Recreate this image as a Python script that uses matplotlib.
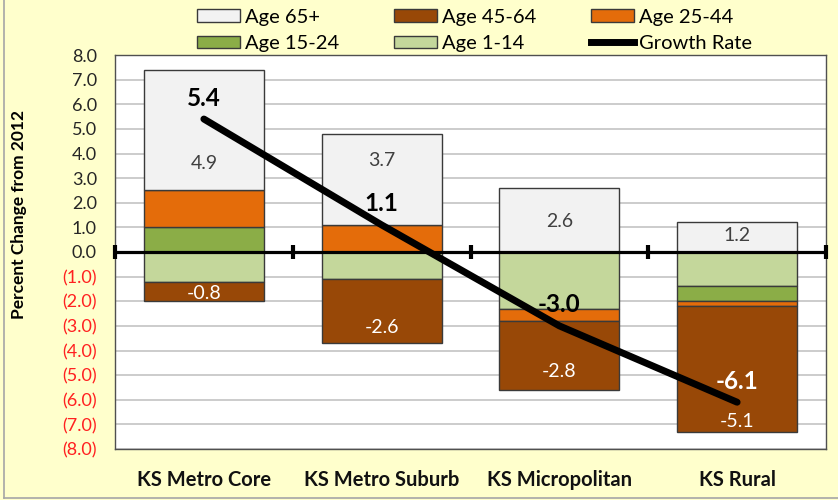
import matplotlib
matplotlib.use("Agg")
import matplotlib.pyplot as plt
import numpy as np
from matplotlib.lines import Line2D
from matplotlib.patches import Patch

plt.rcParams['font.family'] = ['Lato', 'DejaVu Sans']

categories = ["KS Metro Core", "KS Metro Suburb", "KS Micropolitan", "KS Rural"]
age_1_14 = [-1.2, -1.1, -2.3, -1.4]
age_15_24 = [1.0, 0.0, 0.0, -0.6]
age_25_44 = [1.5, 1.1, -0.5, -0.2]
age_45_64 = [-0.8, -2.6, -2.8, -5.1]
age_65 = [4.9, 3.7, 2.6, 1.2]
growth = [5.4, 1.1, -3.0, -6.1]
yticks = np.arange(-8, 9, 1)

# label placement (layout only)
label65_y = [3.6, 3.7, 1.25, 0.65]
label4564_y = [-1.7, -3.05, -4.85, -6.9]
growth_label_colors = ['black', 'black', 'black', 'white']

series = [
    ("Age 1-14", age_1_14, "#C4D79B"),
    ("Age 15-24", age_15_24, "#8BAD47"),
    ("Age 25-44", age_25_44, "#E46C0A"),
    ("Age 45-64", age_45_64, "#984807"),
    ("Age 65+", age_65, "#F2F2F2"),
]

fig = plt.figure(figsize=(8.38, 5.0), dpi=100, facecolor="#FFFFCC")
ax = fig.add_axes([115/838, 51/500, 711/838, 394/500])
ax.set_facecolor("white")

x = np.arange(len(categories))
width = 0.675
pos_base = np.zeros(len(categories))
neg_base = np.zeros(len(categories))
handles = {}
for name, vals, color in series:
    vals = np.array(vals, dtype=float)
    bottoms = np.where(vals >= 0, pos_base, neg_base)
    ax.bar(x, vals, width, bottom=bottoms, color=color, edgecolor="#3a3a3a",
           linewidth=1.0, zorder=2)
    handles[name] = Patch(facecolor=color, edgecolor="#3a3a3a", linewidth=1.0)
    pos_base = pos_base + np.where(vals >= 0, vals, 0)
    neg_base = neg_base + np.where(vals < 0, vals, 0)

# zero line with category-boundary ticks
ax.axhline(0, color="black", lw=2.3, zorder=3)
bounds = np.arange(len(categories) + 1) - 0.5
ax.plot(bounds, np.zeros_like(bounds), ls="none", marker="|", ms=9.5, mew=3,
        color="black", zorder=3, clip_on=False)

# growth line
ax.plot(x, growth, color="black", lw=5, solid_capstyle="round", zorder=4)
handles["Growth Rate"] = Line2D([0], [0], color="black", lw=5)

# labels
for i in range(len(categories)):
    ax.text(x[i], label65_y[i], f"{age_65[i]:.1f}", ha="center", va="center",
            fontsize=14, color="#404040", zorder=5)
    ax.text(x[i], label4564_y[i], f"{age_45_64[i]:.1f}", ha="center", va="center",
            fontsize=14, color="white", zorder=5)
    ax.annotate(f"{growth[i]:.1f}", (x[i], growth[i]), xytext=(0, 21),
                textcoords="offset pixels", ha="center", va="center",
                fontsize=17.5, fontweight="bold", color=growth_label_colors[i],
                zorder=6)

ax.set_xlim(-0.5, len(categories) - 0.5)
ax.set_ylim(-8, 8)
ax.set_yticks(yticks)
ax.set_yticklabels([f"{v:.1f}" if v >= 0 else f"({abs(v):.1f})" for v in yticks])
for lbl, v in zip(ax.get_yticklabels(), yticks):
    lbl.set_color("#262626" if v >= 0 else "#FF2020")
ax.tick_params(axis="y", length=0, pad=13, labelsize=13)
ax.set_xticks(x)
ax.set_xticklabels(categories, fontsize=14.5, fontweight="bold", color="#111111")
ax.tick_params(axis="x", length=0, pad=15)
ax.yaxis.grid(True, color="#C8C8C8", lw=1.3, zorder=0)
ax.set_axisbelow(True)
for s in ax.spines.values():
    s.set_color("#505050")
    s.set_linewidth(1.0)

fig.text(19/838, 1 - 215/500, "Percent Change from 2012", rotation=90,
         ha="center", va="center", fontsize=12.5, fontweight="bold", color="black")

order = ["Age 65+", "Age 15-24", "Age 45-64", "Age 1-14", "Age 25-44", "Growth Rate"]
fig.legend([handles[k] for k in order], order, ncol=3, loc="center",
           bbox_to_anchor=(474.5/838, 1 - 30.5/500), frameon=False, fontsize=14.5,
           handlelength=2.14, handleheight=0.6, handletextpad=0.25,
           columnspacing=2.7, labelspacing=0.45, borderpad=0.1)

# chart-area border remnants
fig.add_artist(Line2D([4/838, 4/838], [2/500, 1], color="#A6A6A6", lw=1.2))
fig.add_artist(Line2D([4/838, 1], [2/500, 2/500], color="#A6A6A6", lw=1.2))

fig.savefig("out.png", dpi=100, facecolor=fig.get_facecolor())
